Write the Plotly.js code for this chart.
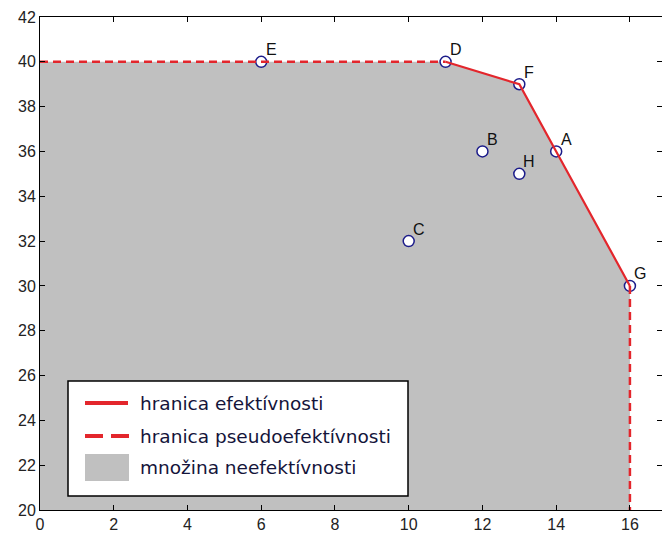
<!DOCTYPE html>
<html>
<head>
<meta charset="utf-8">
<script src="https://cdn.plot.ly/plotly-3.0.1.min.js"></script>
<style>html,body{margin:0;padding:0;background:#fff;}#chart{width:662px;height:538px;}</style>
</head>
<body>
<div id="chart"></div>
<script>
// Points
var pointLabels = ["A", "B", "C", "D", "E", "F", "G", "H"];
var pointX = [14, 12, 10, 11, 6, 13, 16, 13];
var pointY = [36, 36, 32, 40, 40, 39, 30, 35];

// Efficient frontier (solid)
var effX = [11, 13, 14, 16];
var effY = [40, 39, 36, 30];

// Pseudo-efficient frontier (dashed) segments
var pseudoX1 = [0, 11];
var pseudoY1 = [40, 40];
var pseudoX2 = [16, 16];
var pseudoY2 = [30, 20];

// Inefficiency set polygon
var setX = [0, 0, 11, 13, 14, 16, 16];
var setY = [20, 40, 40, 39, 36, 30, 20];

var xTicks = [0, 2, 4, 6, 8, 10, 12, 14, 16];
var yTicks = [20, 22, 24, 26, 28, 30, 32, 34, 36, 38, 40, 42];

var legendNames = ["hranica efektívnosti", "hranica pseudoefektívnosti", "množina neefektívnosti"];

var red = "#e3262c";
var grey = "#c0c0c0";
var traces = [
  {x: setX, y: setY, mode: "lines", fill: "toself", fillcolor: grey,
   line: {width: 0, color: grey}, name: legendNames[2], showlegend: false},
  {x: pointX, y: pointY, mode: "markers", text: pointLabels,
   marker: {symbol: "circle", size: 11, color: "#ffffff", line: {color: "#1c1c8a", width: 1.5}},
   showlegend: false, cliponaxis: false},
  {x: effX, y: effY, mode: "lines", name: legendNames[0], showlegend: false,
   line: {color: red, width: 2.2}},
  {x: pseudoX1, y: pseudoY1, mode: "lines", name: legendNames[1], showlegend: false,
   line: {color: red, width: 2.5, dash: "8px,5px"}},
  {x: pseudoX2, y: pseudoY2, mode: "lines", showlegend: false,
   line: {color: red, width: 2.5, dash: "8px,5px"}}
];

// Manual legend box (pixel -> paper helpers)
var L = 40, T = 17, W = 622, H = 493;
function px(v) { return (v - L) / W; }
function py(v) { return (T + H - v) / H; }

var shapes = [
  {type: "rect", xref: "paper", yref: "paper", x0: px(68), x1: px(408), y0: py(496), y1: py(381),
   fillcolor: "#ffffff", line: {color: "#000000", width: 1.5}, layer: "above"},
  {type: "line", xref: "paper", yref: "paper", x0: px(85), x1: px(128), y0: py(403), y1: py(403),
   line: {color: red, width: 4}, layer: "above"},
  {type: "line", xref: "paper", yref: "paper", x0: px(85), x1: px(129), y0: py(436), y1: py(436),
   line: {color: red, width: 4, dash: "18px,8px"}, layer: "above"},
  {type: "rect", xref: "paper", yref: "paper", x0: px(85), x1: px(129), y0: py(481), y1: py(454),
   fillcolor: grey, line: {width: 0}, layer: "above"}
];
var legYs = [403, 436, 467];
var annotations = legendNames.map(function (t, i) {
  return {xref: "paper", yref: "paper", x: px(138), y: py(legYs[i]), xanchor: "left", yanchor: "middle",
    text: t, showarrow: false,
    font: {family: "DejaVu Sans, Verdana, sans-serif", size: 18.5, color: "#14143a"}};
});
pointLabels.forEach(function (t, i) {
  annotations.push({x: pointX[i], y: pointY[i], xref: "x", yref: "y", text: t, showarrow: false,
    xanchor: "center", yanchor: "middle", xshift: 10, yshift: 12,
    font: {family: "Liberation Sans, Arial, sans-serif", size: 16, color: "#111"}});
});

var layout = {
  width: 662, height: 538,
  margin: {l: 40, r: 0, t: 17, b: 28},
  paper_bgcolor: "#ffffff", plot_bgcolor: "#ffffff",
  font: {family: "Liberation Sans, Arial, sans-serif", size: 16, color: "#222"},
  showlegend: false,
  shapes: shapes,
  annotations: annotations,
  xaxis: {range: [0, 16.87], tickvals: xTicks, ticks: "inside", ticklen: 5, tickcolor: "#000",
    showline: true, linecolor: "#000", linewidth: 1, mirror: "ticks", showgrid: false, zeroline: false,
    tickfont: {size: 16, color: "#222"}},
  yaxis: {range: [20, 42], tickvals: yTicks, ticks: "inside", ticklen: 5, tickcolor: "#000",
    showline: true, linecolor: "#000", linewidth: 1, mirror: "ticks", showgrid: false, zeroline: false,
    tickfont: {size: 16, color: "#222"}}
};
Plotly.newPlot("chart", traces, layout, {displayModeBar: false, staticPlot: true});
</script>
</body>
</html>
